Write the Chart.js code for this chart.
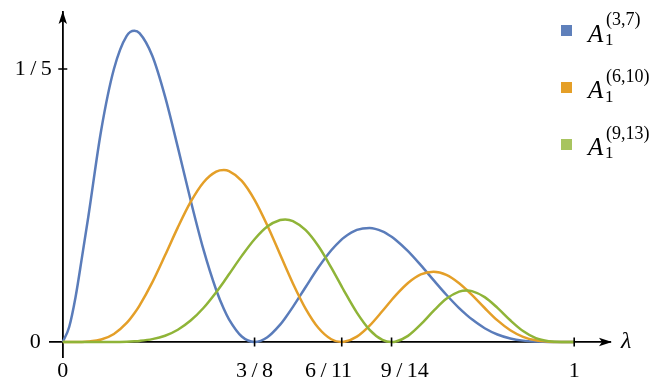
<!DOCTYPE html>
<html>
<head>
<meta charset="utf-8">
<script src="https://cdn.jsdelivr.net/npm/chart.js@4.4.1/dist/chart.umd.min.js"></script>
<style>
  html, body { margin: 0; padding: 0; background: #fff; }
  #wrap { position: relative; width: 669px; height: 384px; }
  canvas { display: block; }
  .key { position: absolute; left: 561px; font-family: "Liberation Serif", serif; color: #000; }
  .key .sq { position: absolute; left: 0; top: 0; width: 11px; height: 11px; }
  .key .a { position: absolute; left: 27px; top: -4.6px; font-size: 25px; font-style: italic; line-height: 1; }
  .key .sup { position: absolute; left: 45px; top: -15px; font-size: 18px; line-height: 1; white-space: nowrap; }
  .key .sub { position: absolute; left: 44px; top: 5.5px; font-size: 17px; line-height: 1; }
  #lam { position: absolute; left: 621px; top: 328px; font: italic 24px "Liberation Serif", serif; line-height: 1; }
</style>
</head>
<body>
<div id="wrap">
  <canvas id="myChart" width="669" height="384"></canvas>
  <span id="lam">λ</span>
</div>
<script>
// valeurs
var lambdas = [0, 0.0125, 0.025, 0.0375, 0.05, 0.075, 0.1, 0.125, 0.14, 0.15, 0.175, 0.2, 0.225, 0.25, 0.275, 0.3,
  0.315, 0.325, 0.35, 0.375, 0.4, 0.425, 0.435, 0.45, 0.475, 0.5, 0.525, 0.545, 0.55, 0.575, 0.6, 0.625,
  0.643, 0.65, 0.675, 0.7, 0.725, 0.75, 0.775, 0.79, 0.8, 0.825, 0.85, 0.875, 0.9, 0.925, 0.95, 0.975, 1];

var blueVals = [0, 0.011, 0.033, 0.062, 0.092, 0.155, 0.2000, 0.2243, 0.2280, 0.2263, 0.2097, 0.1798, 0.1426, 0.1038, 0.0678, 0.0381,
  0.0241, 0.0166, 0.0040, 0, 0.0035, 0.0127, 0.0176, 0.0257, 0.0403, 0.0547, 0.0672, 0.0750, 0.0766, 0.0821, 0.0836, 0.0811,
  0.0771, 0.0751, 0.0666, 0.0563, 0.0453, 0.0346, 0.0248, 0.0197, 0.0166, 0.0101, 0.0055, 0.0026, 0.0010, 0.0003, 0, 0, 0];

var orangeVals = [0, 0, 0, 0, 0.0003, 0.0018, 0.0059, 0.0140, 0.0211, 0.0267, 0.0437, 0.0635, 0.0840, 0.1026, 0.1169, 0.1248,
  0.1260, 0.1252, 0.1181, 0.1042, 0.0854, 0.0641, 0.0555, 0.0429, 0.0243, 0.0102, 0.0020, 0, 0.0001, 0.0039, 0.0120, 0.0227,
  0.0308, 0.0338, 0.0432, 0.0495, 0.0515, 0.0492, 0.0431, 0.0381, 0.0345, 0.0249, 0.0158, 0.0086, 0.0038, 0.0012, 0.0002, 0, 0];

var greenVals = [0, 0, 0, 0, 0, 0, 0, 0.0002, 0.0005, 0.0008, 0.0021, 0.0046, 0.0090, 0.0157, 0.0249, 0.0365,
  0.0442, 0.0496, 0.0631, 0.0753, 0.0846, 0.0894, 0.0898, 0.0886, 0.0819, 0.0701, 0.0545, 0.0409, 0.0375, 0.0215, 0.0089, 0.0015,
  0, 0.0002, 0.0045, 0.0129, 0.0228, 0.0316, 0.0369, 0.0377, 0.0373, 0.0329, 0.0250, 0.0159, 0.0080, 0.0028, 0.0006, 0, 0];

var seriesSup = ["(3,7)", "(6,10)", "(9,13)"];
var lineColors = ["#5a7cba", "#e49f28", "#8fb438"];
var keyColors = ["#5f80bb", "#e59f27", "#a8c45f"];

var xTickVals = [0, 3 / 8, 6 / 11, 9 / 14, 1];
var xTickText = ["0", "3\u2009/\u20098", "6\u2009/\u200911\u2003\u2009", "\u2003\u20099\u2009/\u200914", "1"];
var yTickVals = [0, 0.2];
var yTickText = ["0\u2003", "1\u2009/\u20095\u2002"];

function pts(vals) {
  return lambdas.map(function (l, i) { return { x: l, y: vals[i] }; });
}

// flèches et petites graduations
var axesPlugin = {
  id: "axesPlugin",
  afterDraw: function (chart) {
    var ctx = chart.ctx;
    var sx = chart.scales.x, sy = chart.scales.y;
    var x0 = sx.getPixelForValue(0), y0 = sy.getPixelForValue(0);
    var right = chart.chartArea.right, top = chart.chartArea.top;
    ctx.save();
    ctx.strokeStyle = "#000";
    ctx.lineWidth = 1.6;
    ctx.beginPath();
    xTickVals.forEach(function (v) {
      if (v === 0) return;
      var px = sx.getPixelForValue(v);
      ctx.moveTo(px, y0 - 4.5);
      ctx.lineTo(px, y0 + 4.5);
    });
    yTickVals.forEach(function (v) {
      if (v === 0) return;
      var py = sy.getPixelForValue(v);
      ctx.moveTo(x0 - 4.5, py);
      ctx.lineTo(x0 + 4.5, py);
    });
    ctx.stroke();
    ctx.fillStyle = "#000";
    ctx.beginPath();
    ctx.moveTo(right + 2, y0);
    ctx.lineTo(right - 11, y0 - 4.2);
    ctx.lineTo(right - 8, y0);
    ctx.lineTo(right - 11, y0 + 4.2);
    ctx.closePath();
    ctx.fill();
    ctx.beginPath();
    ctx.moveTo(x0, top - 1);
    ctx.lineTo(x0 - 4.2, top + 12);
    ctx.lineTo(x0, top + 9);
    ctx.lineTo(x0 + 4.2, top + 12);
    ctx.closePath();
    ctx.fill();
    ctx.restore();
  }
};

var ctx = document.getElementById("myChart").getContext("2d");
new Chart(ctx, {
  type: "line",
  data: {
    datasets: [
      { label: "A1" + seriesSup[0], data: pts(blueVals), borderColor: lineColors[0], order: 2 },
      { label: "A1" + seriesSup[1], data: pts(orangeVals), borderColor: lineColors[1], order: 1 },
      { label: "A1" + seriesSup[2], data: pts(greenVals), borderColor: lineColors[2], order: 0 },
    ],
  },
  options: {
    responsive: false,
    animation: false,
    layout: { padding: { left: 50, right: 59, top: 12, bottom: 27 } },
    elements: {
      line: { borderWidth: 2.5, fill: false, cubicInterpolationMode: "monotone" },
      point: { radius: 0, hoverRadius: 0 },
    },
    plugins: { legend: { display: false }, tooltip: { enabled: false } },
    scales: {
      x: {
        type: "linear",
        min: -0.025,
        max: 1.07,
        position: { y: 0 },
        grid: { display: false, drawTicks: false },
        border: { display: true, color: "#000", width: 1.8 },
        afterBuildTicks: function (s) {
          s.ticks = xTickVals.map(function (v) { return { value: v }; });
        },
        afterFit: function (s) { s.paddingLeft = 0; s.paddingRight = 0; },
        ticks: {
          autoSkip: false,
          maxRotation: 0,
          padding: 16,
          color: "#000",
          font: { family: "Liberation Serif", size: 22 },
          callback: function (v, i) { return xTickText[i]; },
        },
      },
      y: {
        type: "linear",
        min: -0.011,
        max: 0.2418,
        position: { x: 0 },
        grid: { display: false, drawTicks: false },
        border: { display: true, color: "#000", width: 1.8 },
        afterBuildTicks: function (s) {
          s.ticks = yTickVals.map(function (v) { return { value: v }; });
        },
        afterFit: function (s) { s.paddingTop = 0; s.paddingBottom = 0; },
        ticks: {
          autoSkip: false,
          padding: 12,
          color: "#000",
          font: { family: "Liberation Serif", size: 22 },
          callback: function (v, i) { return yTickText[i]; },
        },
      },
    },
  },
  plugins: [axesPlugin],
});

// légende avec indices
var wrap = document.getElementById("wrap");
seriesSup.forEach(function (s, i) {
  var item = document.createElement("div");
  item.className = "key";
  item.style.top = (25.3 + i * 56.7) + "px";
  item.innerHTML = '<span class="sq" style="background:' + keyColors[i] + '"></span>' +
    '<span class="a">A</span><span class="sup">' + s + '</span><span class="sub">1</span>';
  wrap.appendChild(item);
});
</script>
</body>
</html>
